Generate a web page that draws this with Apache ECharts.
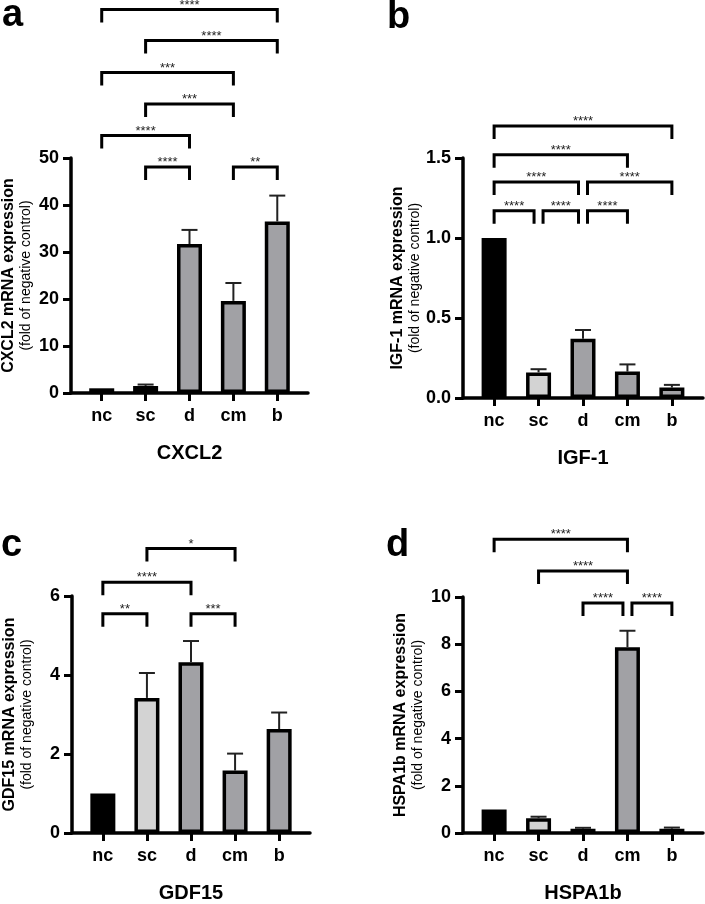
<!DOCTYPE html>
<html>
<head>
<meta charset="utf-8">
<script src="https://cdn.jsdelivr.net/npm/echarts@6/dist/echarts.min.js"></script>
<style>
  html, body { margin: 0; padding: 0; background: #fff; }
  #mycharts { width: 705px; height: 904px; }
</style>
</head>
<body>
<div id="mycharts"></div>
<script>
const categories = ["nc", "sc", "d", "cm", "b"];

// mean and upper error per group
const cxcl2Mean = [1.0, 1.5, 31.7, 19.6, 36.5];
const cxcl2Err = [0, 0.3, 3.0, 3.8, 5.5];
const igf1Mean = [1.0, 0.16, 0.37, 0.165, 0.065];
const igf1Err = [0, 0.02, 0.055, 0.045, 0.017];
const gdf15Mean = [1.0, 3.42, 4.32, 1.58, 2.63];
const gdf15Err = [0, 0.63, 0.54, 0.43, 0.42];
const hspa1bMean = [1.0, 0.62, 0.18, 7.87, 0.18];
const hspa1bErr = [0, 0.07, 0.04, 0.7, 0.05];

// significance brackets: [from, to, height, stars]
const cxcl2Sig = [
  ["nc", "b", 81.6, "****"],
  ["sc", "b", 75.0, "****"],
  ["nc", "cm", 68.2, "***"],
  ["sc", "cm", 61.5, "***"],
  ["nc", "d", 54.8, "****"],
  ["sc", "d", 48.1, "****"],
  ["cm", "b", 48.1, "**"]
];
const igf1Sig = [
  ["nc", "b", 1.70, "****"],
  ["nc", "cm", 1.52, "****"],
  ["nc", "d", 1.35, "****"],
  ["d", "b", 1.35, "****"],
  ["nc", "sc", 1.17, "****"],
  ["sc", "d", 1.17, "****"],
  ["d", "cm", 1.17, "****"]
];
const gdf15Sig = [
  ["sc", "cm", 7.2, "*"],
  ["nc", "d", 6.35, "****"],
  ["nc", "sc", 5.55, "**"],
  ["d", "cm", 5.55, "***"]
];
const hspa1bSig = [
  ["nc", "cm", 12.45, "****"],
  ["sc", "cm", 11.1, "****"],
  ["d", "cm", 9.75, "****"],
  ["cm", "b", 9.75, "****"]
];

const FONT = "Liberation Sans, Arial, sans-serif";
const barColors = ["#000000", "#d3d3d3", "#a1a1a5", "#a1a1a5", "#a1a1a5"];

var chartDom = document.getElementById("mycharts");
var myChart = echarts.init(chartDom);

function bracketData(sig) {
  return sig.map(function (s) {
    const shareL = sig.some(o => o !== s && o[2] === s[2] && o[1] === s[0]) ? 1 : 0;
    const shareR = sig.some(o => o !== s && o[2] === s[2] && o[0] === s[1]) ? 1 : 0;
    return [categories.indexOf(s[0]), categories.indexOf(s[1]), s[2], shareL, shareR];
  });
}

function bracketRender(sig) {
  return function (params, api) {
    const l = api.coord([api.value(0), api.value(2)]);
    const r = api.coord([api.value(1), api.value(2)]);
    const x1 = l[0] + api.value(3) * 4.5;
    const x2 = r[0] - api.value(4) * 4.5;
    const y = l[1];
    return {
      type: "group",
      children: [
        {
          type: "polyline",
          shape: { points: [[x1, y + 13], [x1, y], [x2, y], [x2, y + 13]] },
          style: { stroke: "#000", lineWidth: 3, fill: "none" }
        },
        {
          type: "text",
          style: {
            text: sig[params.dataIndex][3], x: (x1 + x2) / 2, y: y + 2,
            align: "center", verticalAlign: "bottom",
            fontSize: 13, fontFamily: FONT, fill: "#222"
          }
        }
      ]
    };
  };
}

function errorRender(params, api) {
  const e = api.value(2);
  if (!e) return;
  const p0 = api.coord([api.value(0), api.value(1)]);
  const p1 = api.coord([api.value(0), api.value(1) + e]);
  return {
    type: "group",
    children: [
      { type: "line", shape: { x1: p0[0], y1: p0[1], x2: p1[0], y2: p1[1] }, style: { stroke: "#222", lineWidth: 2 } },
      { type: "line", shape: { x1: p1[0] - 8, y1: p1[1], x2: p1[0] + 8, y2: p1[1] }, style: { stroke: "#222", lineWidth: 2 } }
    ]
  };
}

const panels = [
  { gene: "CXCL2", mean: cxcl2Mean, err: cxcl2Err, sig: cxcl2Sig, max: 50, interval: 10, dec: 0,
    grid: { left: 71, top: 158, width: 237, height: 235 } },
  { gene: "IGF-1", mean: igf1Mean, err: igf1Err, sig: igf1Sig, max: 1.5, interval: 0.5, dec: 1,
    grid: { left: 463, top: 158, width: 240, height: 240 } },
  { gene: "GDF15", mean: gdf15Mean, err: gdf15Err, sig: gdf15Sig, max: 6, interval: 2, dec: 0,
    grid: { left: 72, top: 596, width: 238, height: 240 } },
  { gene: "HSPA1b", mean: hspa1bMean, err: hspa1bErr, sig: hspa1bSig, max: 10, interval: 2, dec: 0,
    grid: { left: 463, top: 597, width: 240, height: 237 } }
];

const axisLine = { show: true, onZero: false, lineStyle: { color: "#000", width: 3.5 } };
const axisTick = { show: true, length: 8, lineStyle: { color: "#000", width: 3 } };
const ticks = categories.map((c, i) => i);

var option = {
  animation: false,
  textStyle: { fontFamily: FONT },
  title: [
    { text: "a", x: 2, y: 16 },
    { text: "b", x: 387, y: 18 },
    { text: "c", x: 1, y: 546 },
    { text: "d", x: 386, y: 546 }
  ].map(t => ({
    text: t.text, left: t.x, top: t.y - 24, padding: 0,
    textStyle: { fontSize: 38, fontWeight: "bold", color: "#000", fontFamily: FONT, lineHeight: 48 }
  })),
  grid: panels.map(p => p.grid),
  xAxis: panels.map((p, i) => ({
    type: "value", gridIndex: i, min: -0.7, max: 4.7,
    axisLine: axisLine,
    axisTick: Object.assign({ customValues: ticks }, axisTick),
    splitLine: { show: false },
    axisLabel: {
      customValues: ticks, margin: 14,
      formatter: v => categories[Math.round(v)],
      fontSize: 18, fontWeight: "bold", color: "#000"
    },
    name: p.gene, nameLocation: "middle", nameGap: 50,
    nameTextStyle: { fontSize: 20, fontWeight: "bold", color: "#000" }
  })),
  yAxis: panels.map((p, i) => ({
    type: "value", gridIndex: i, min: 0, max: p.max, interval: p.interval,
    axisLine: axisLine, axisTick: axisTick,
    splitLine: { show: false },
    axisLabel: {
      margin: 12, fontSize: 18, fontWeight: "bold", color: "#000",
      formatter: v => v.toFixed(p.dec)
    },
    name: "{a|" + p.gene + " mRNA expression}\n{b|(fold of negative control)}",
    nameLocation: "middle", nameRotate: 90, nameGap: 37,
    nameTextStyle: {
      rich: {
        a: { fontSize: 16, fontWeight: "bold", color: "#000", lineHeight: 18, fontFamily: FONT },
        b: { fontSize: 14, color: "#000", lineHeight: 16, fontFamily: FONT }
      }
    }
  })),
  series: []
};

panels.forEach(function (p, i) {
  option.series.push({
    type: "bar", xAxisIndex: i, yAxisIndex: i, barWidth: 25,
    data: p.mean.map((v, k) => ({
      value: [k, v],
      itemStyle: { color: barColors[k], borderColor: "#000", borderWidth: 3.5 }
    }))
  });
  option.series.push({
    type: "custom", xAxisIndex: i, yAxisIndex: i, z: 5,
    renderItem: errorRender,
    encode: { x: 0, y: 1 },
    data: p.mean.map((v, k) => [k, v, p.err[k]])
  });
  option.series.push({
    type: "custom", xAxisIndex: i, yAxisIndex: i, z: 5, clip: false,
    renderItem: bracketRender(p.sig),
    encode: { x: [0, 1], y: 2 },
    data: bracketData(p.sig)
  });
});

option && myChart.setOption(option);
</script>
</body>
</html>
